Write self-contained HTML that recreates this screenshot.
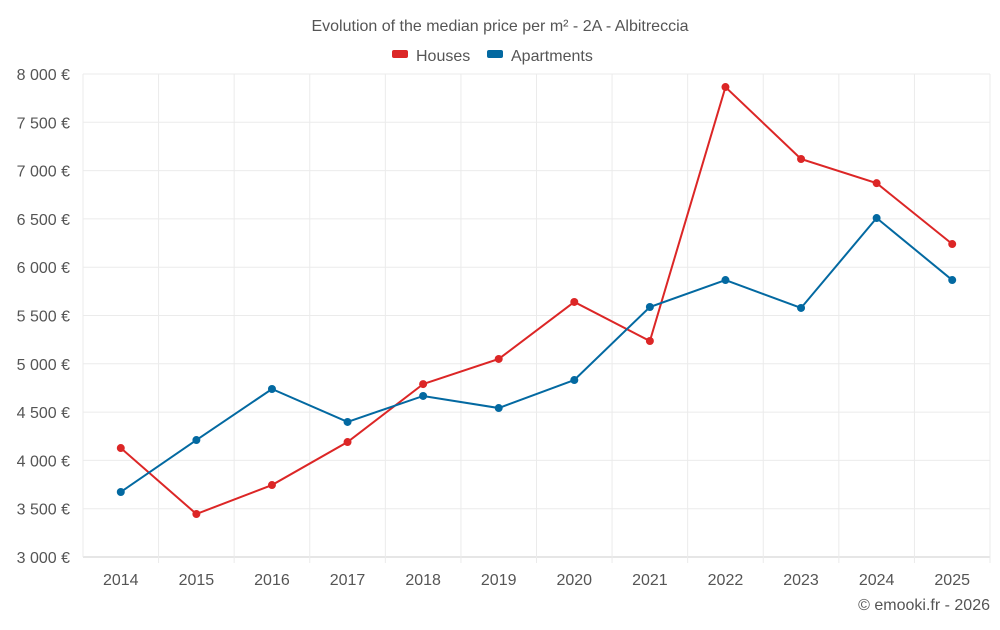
<!DOCTYPE html>
<html><head><meta charset="utf-8"><style>
body{margin:0;background:#fff;font-family:"Liberation Sans",sans-serif}
svg text{font-family:"Liberation Sans",sans-serif}
</style></head><body>
<svg id="chart" width="1000" height="625">
<text x="500" y="31" text-anchor="middle" font-size="16" fill="#555">Evolution of the median price per m² - 2A - Albitreccia</text>
<g>
<g><rect x="392" y="50" width="16" height="8" rx="2" fill="#dc2626"/><text x="416" y="61" font-size="16" fill="#555">Houses</text></g>
<g><rect x="487" y="50" width="16" height="8" rx="2" fill="#0369a1"/><text x="511" y="61" font-size="16" fill="#555">Apartments</text></g>
</g>
<g id="grid"></g>
<g id="axes"></g>
<g id="series"></g>
<text x="990" y="610" text-anchor="end" font-size="16" fill="#555">© emooki.fr - 2026</text>
</svg>
<script>
const years=["2014","2015","2016","2017","2018","2019","2020","2021","2022","2023","2024","2025"];
const houses=[4128,3445,3745,4190,4790,5050,5640,5236,7865,7120,6870,6240];
const apartments=[3673,4211,4739,4398,4667,4542,4832,5588,5867,5578,6509,5867];
const yTicks=[3000,3500,4000,4500,5000,5500,6000,6500,7000,7500,8000];
const L=83,R=990,T=74,B=557,yMin=3000,yMax=8000;
const NS="http://www.w3.org/2000/svg";
const step=(R-L)/years.length;
const x=i=>L+step*(i+0.5);
const y=v=>B-(v-yMin)/(yMax-yMin)*(B-T);
function mk(tag,attrs,parent){const e=document.createElementNS(NS,tag);for(const k in attrs)e.setAttribute(k,attrs[k]);document.getElementById(parent).appendChild(e);return e;}
yTicks.forEach(v=>{
 const g=mk('line',{x1:L,x2:R,y1:y(v),y2:y(v),stroke:v===yMin?'#ccc':'#ebebeb'},'grid');
 
 
 const t=mk('text',{x:70,y:y(v)+6,'text-anchor':'end','font-size':16,fill:'#555'},'axes');
 t.textContent=String(v).replace(/\B(?=(\d{3})+(?!\d))/g,' ')+' €';
 
 
});
for(let i=0;i<=years.length;i++){
 const g=mk('line',{x1:L+step*i,x2:L+step*i,y1:T,y2:B+(i>0?6:0),stroke:'#ebebeb'},'grid');
 
 
}
years.forEach((yr,i)=>{
 const t=mk('text',{x:x(i),y:585,'text-anchor':'middle','font-size':16,fill:'#555'},'axes');
 t.textContent=yr;
 
 
});
function series(data,color,name){
 const p=mk('polyline',{points:data.map((v,i)=>x(i)+','+y(v)).join(' '),fill:'none',stroke:color,'stroke-width':2},'series');
 
 
 data.forEach((v,i)=>{
  const c=mk('circle',{cx:x(i),cy:y(v),r:4,fill:color},'series');
  
  
 });
}
series(houses,'#dc2626','houses');
series(apartments,'#0369a1','apartments');
</script>
</body></html>
